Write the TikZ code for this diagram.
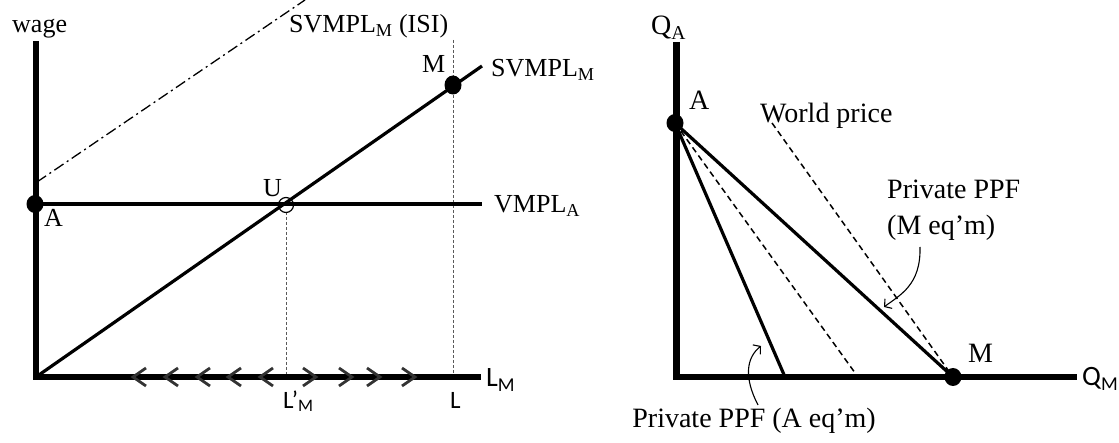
\documentclass[tikz,border=0pt]{standalone}
\usepackage{fontspec}
\setmainfont{Liberation Serif}
\newfontfamily\calibri[Ligatures=TeX]{Carlito}
\usetikzlibrary{
  arrows.meta,
  calc,
  positioning,
  shapes.geometric,
}
\tikzstyle{axis} = [line width=6.5pt, line join=miter]
\tikzstyle{curve} = [line width=3.2pt]
\tikzstyle{dot} = [draw=none, fill=black, ellipse, inner sep=0pt, minimum width=17pt, minimum height=18pt]
\tikzstyle{guide} = [gray!70!black, line width=0.9pt, dash pattern=on 3pt off 2pt]
\tikzstyle{world} = [line width=1.5pt, dash pattern=on 6pt off 4pt]
\tikzstyle{isi} = [line width=1.3pt, dash pattern=on 11pt off 4pt on 2pt off 4pt]
\tikzstyle{chev} = [line width=2.8pt, black!80]
\tikzstyle{pointer} = [-{Straight Barb[length=5pt,width=12pt]}, line width=1.1pt]
\tikzstyle{lbl} = [inner sep=0pt, anchor=base west, font=\fontsize{26}{36}\selectfont]
\tikzstyle{lbr} = [inner sep=0pt, anchor=base west, font=\fontsize{28}{36}\selectfont]
\tikzstyle{sans} = [inner sep=0pt, anchor=base west, font=\fontsize{28}{32}\selectfont\calibri]
\tikzstyle{sanss} = [inner sep=0pt, anchor=base west, font=\fontsize{25}{28}\selectfont\calibri]

\begin{document}
\begin{tikzpicture}[x=1pt, y=-1pt]
    \useasboundingbox (0,0) rectangle (1119,443);

    % left panel: labour market
    \coordinate (top1) at (36,41);
    \coordinate (o1) at (36,377);
    \coordinate (end1) at (481,377);
    \coordinate (vend) at (482,204);
    \coordinate (send) at (482,66);
    \coordinate (isi0) at (37,182);
    \coordinate (isi1) at (305,0);
    \coordinate (ltop) at (453,40);
    \coordinate (lbot) at (453,375);
    \coordinate (lptop) at (286,212);
    \coordinate (lpbot) at (286,375);

    \draw[guide] (lptop) -- (lpbot);
    \draw[guide] (ltop) -- (lbot);
    \draw[isi] (isi0) -- (isi1);
    \draw[axis] (top1) -- (o1) -- (end1);
    \node[dot] (a1) at (35,204) {};
    \node[dot, minimum height=19pt] (m1) at (453,85) {};
    \draw[curve] (a1.center) -- (vend);
    \draw[curve] (o1) -- (send);
    \node[draw, circle, line width=1.2pt, minimum size=15pt, inner sep=0pt] (u1) at (286,205) {};

    \foreach \x in {133,165,197,228,260}
        \draw[chev] (\x+13,368) -- (\x,377) -- (\x+13,386);
    \foreach \x in {316,352,380,415}
        \draw[chev] (\x-13,368) -- (\x,377) -- (\x-13,386);

    \node[lbl] (wage) at (12,33) {wage};
    \node[lbl] (isi) at (289,33) {SVMPL\textsubscript{M} (ISI)};
    \node[lbl] (mlab1) at (422,73) {M};
    \node[lbl] (svm) at (491,77) {SVMPL\textsubscript{M}};
    \node[lbl] (vm) at (494,213) {VMPL\textsubscript{A}};
    \node[lbl] (ulab) at (263,197) {U};
    \node[lbl] (alab1) at (44,227) {A};
    \node[sanss] (lpm) at (283,408) {L'\textsubscript{M}};
    \node[sanss] (llab) at (450,408) {L};
    \node[sans] (lm) at (486,387) {L\textsubscript{M}};

    % right panel: production possibilities
    \coordinate (top2) at (676.5,42);
    \coordinate (o2) at (676.5,377);
    \coordinate (end2) at (1077,377);
    \coordinate (pa) at (785,377);
    \coordinate (pw) at (858,377);
    \coordinate (w0) at (772,123);
    \coordinate (mt) at (920,247);
    \coordinate (mh) at (884,307);
    \coordinate (at) at (758,405);
    \coordinate (ah) at (761,346);

    \draw[axis] (top2) -- (o2) -- (end2);
    \node[dot] (a2) at (675,123) {};
    \node[dot] (m2) at (953,377) {};
    \draw[curve] (a2.center) -- (pa);
    \draw[world] (a2.center) -- (pw);
    \draw[curve] (a2.center) -- (m2.center);
    \draw[world] (w0) -- (m2.center);

    \node[lbr] (qa) at (651,35) {Q\textsubscript{A}};
    \node[lbr] (alab2) at (689,110) {A};
    \node[lbr] (wp) at (760,123) {World price};
    \node[lbr] (mlab2) at (968,363) {M};
    \node[sans] (qm) at (1082,386) {Q\textsubscript{M}};
    \node[lbr, anchor=north west, align=left] (ppfm) at (887,180) {Private PPF\\(M eq'm)};
    \node[lbr, anchor=base east] (ppfa) at (876,428) {Private PPF (A eq'm)};

    \draw[pointer] (mt) .. controls (921,285) and (900,295) .. (mh);
    \draw[pointer] (at) .. controls (744,378) and (746,358) .. (ah);
\end{tikzpicture}
\end{document}
